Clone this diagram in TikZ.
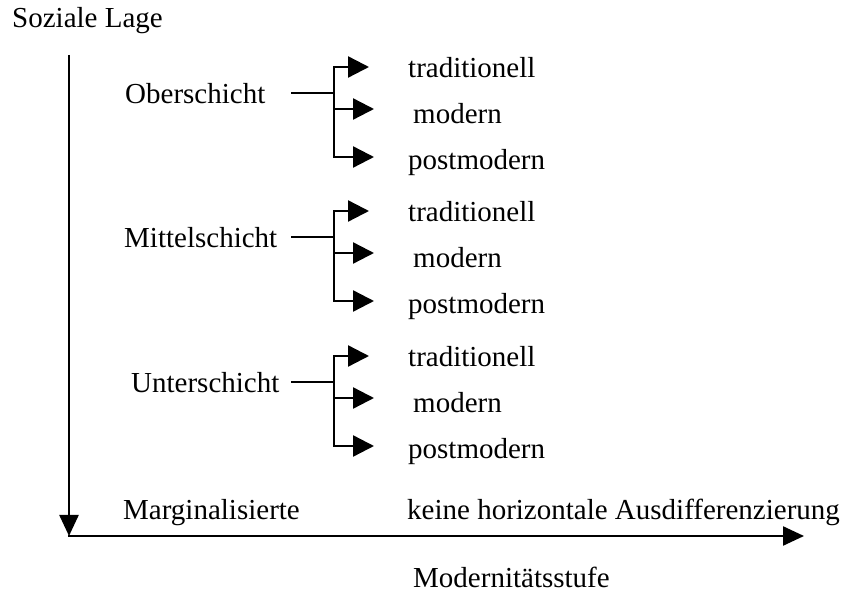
\documentclass[tikz,border=0pt]{standalone}
\usepackage{fontspec}
\setmainfont{Liberation Serif}
\usetikzlibrary{arrows.meta}
\begin{document}
\begin{tikzpicture}[x=1pt,y=-1pt,
  lbl/.style={anchor=base west, inner sep=0pt, font=\fontsize{29}{34}\selectfont},
  ln/.style={line width=2.4pt, line cap=rect},
  br/.style={line width=2.4pt, -{Triangle[length=21pt,width=21pt]}},
  ax/.style={line width=2.4pt, -{Triangle[length=21pt,width=19pt]}}]
\useasboundingbox (0,0) rectangle (847,593);

% axes
\node[lbl] (yl) at (12,28) {Soziale Lage};
\coordinate (ytop) at (69,55);
\coordinate (orig) at (69,536);
\coordinate (xend) at (804,536);
\draw[ax] (ytop) -- (orig);
\draw[line width=2.4pt] (orig) -- (70,536);
\draw[ax] (68,536) -- (xend);
\node[lbl] (xl) at (413,588) {Modernitätsstufe};

% one bracket per social class
\foreach \name/\txt/\lx/\B in {ober/Oberschicht/125/104,
                               mittel/Mittelschicht/124/248,
                               unter/Unterschicht/131/393} {
  \node[lbl] (\name) at (\lx,\B) {\txt};
  \coordinate (\name-s)  at (292,\B-11);
  \coordinate (\name-j)  at (334,\B-11);
  \coordinate (\name-t0) at (334,\B-37);
  \coordinate (\name-m0) at (334,\B+5);
  \coordinate (\name-b0) at (334,\B+53);
  \coordinate (\name-t1) at (369,\B-37);
  \coordinate (\name-m1) at (374,\B+5);
  \coordinate (\name-b1) at (374,\B+53);
  \node[lbl] (\name-tr) at (408,\B-26) {traditionell};
  \node[lbl] (\name-mo) at (413,\B+20) {modern};
  \node[lbl] (\name-pm) at (408,\B+66) {postmodern};
  \draw[ln] (\name-s) -- (\name-j);
  \draw[ln] (\name-t0) -- (\name-b0);
  \draw[br] (\name-t0) -- (\name-t1);
  \draw[br] (\name-m0) -- (\name-m1);
  \draw[br] (\name-b0) -- (\name-b1);
}

\node[lbl] (marg) at (123,520) {Marginalisierte};
\node[lbl] (keine) at (407,520) {keine horizontale Ausdifferenzierung};
\end{tikzpicture}
\end{document}
